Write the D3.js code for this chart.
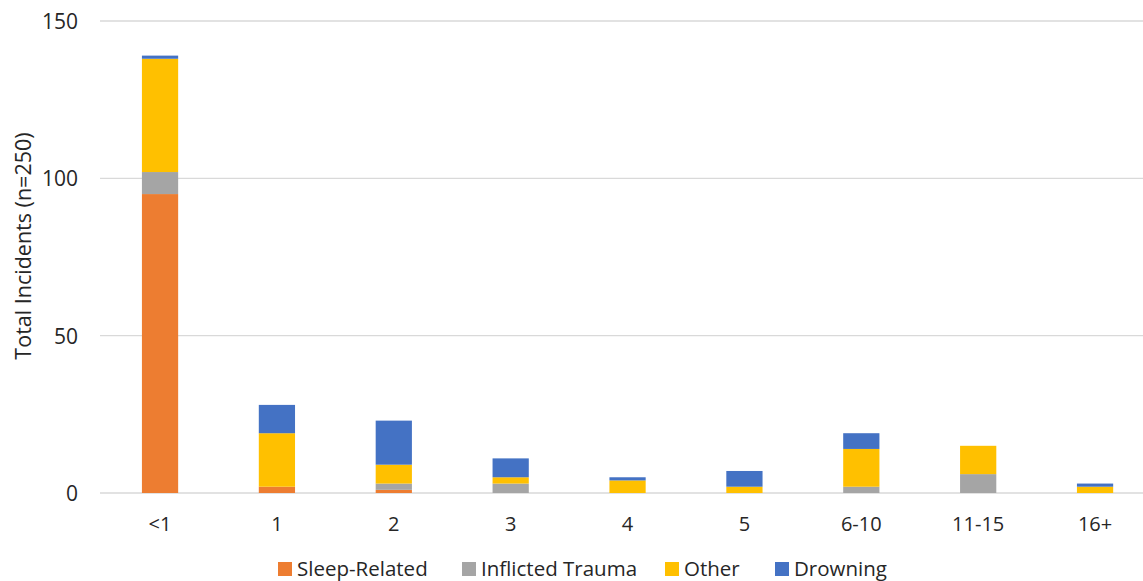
<!DOCTYPE html>
<html><head><meta charset="utf-8">
<script src="https://cdn.jsdelivr.net/npm/d3@7"></script>
<style>body{margin:0;background:#fff}svg{display:block}text{font-family:"Open Sans",sans-serif;fill:#262626}</style>
</head><body><svg id="c" width="1143" height="581"></svg>
<script>
const categories = ["<1","1","2","3","4","5","6-10","11-15","16+"];
const seriesNames = ["Sleep-Related","Inflicted Trauma","Other","Drowning"];
const sleepRelated = [95,2,1,0,0,0,0,0,0];
const inflictedTrauma = [7,0,2,3,0,0,2,6,0];
const other = [36,17,6,2,4,2,12,9,2];
const drowning = [1,9,14,6,1,5,5,0,1];
const yTicks = [0,50,100,150];
const colors = ["#ED7D31","#A5A5A5","#FFC000","#4472C4"];

const rows = categories.map((c,i)=>({cat:c,"Sleep-Related":sleepRelated[i],"Inflicted Trauma":inflictedTrauma[i],"Other":other[i],"Drowning":drowning[i]}));
const svg = d3.select("#c");
const x = d3.scaleBand().domain(categories).range([101.6,1153.5]).paddingInner(0.69).paddingOuter(0.345);
const y = d3.scaleLinear().domain([0,150]).range([493,21]);

svg.append("g").selectAll("line").data(yTicks).join("line")
  .attr("x1",100).attr("x2",1160).attr("y1",d=>y(d)).attr("y2",d=>y(d))
  .attr("stroke","#D9D9D9").attr("stroke-width",1.3);

const yAxis = svg.append("g").attr("transform","translate(100,0)")
  .call(d3.axisLeft(y).tickValues(yTicks).tickSize(0).tickPadding(22));
yAxis.select(".domain").remove();
yAxis.selectAll("text").style("font-size","21px").attr("fill","#262626").attr("dy","0.35em");

const xAxis = svg.append("g").attr("transform","translate(0,493)")
  .call(d3.axisBottom(x).tickSize(0).tickPadding(24));
xAxis.select(".domain").remove();
xAxis.selectAll("text").style("font-size","20px").attr("fill","#262626");

const stack = d3.stack().keys(seriesNames)(rows);
svg.append("g").selectAll("g").data(stack).join("g").attr("fill",(d,i)=>colors[i])
  .selectAll("rect").data(d=>d).join("rect")
  .attr("x",d=>x(d.data.cat)).attr("width",x.bandwidth())
  .attr("y",d=>y(d[1])).attr("height",d=>y(d[0])-y(d[1]));

svg.append("text").attr("transform","translate(31,246) rotate(-90)").attr("text-anchor","middle")
  .style("font-size","21.5px").text("Total Incidents (n=250)");

const legX = [278,462,665,775];
const leg = svg.append("g");
seriesNames.forEach((s,i)=>{
  leg.append("rect").attr("x",legX[i]).attr("y",562).attr("width",14).attr("height",14).attr("fill",colors[i]);
  leg.append("text").attr("x",legX[i]+19).attr("y",575.5).style("font-size","20.5px").text(s);
});
</script></body></html>
